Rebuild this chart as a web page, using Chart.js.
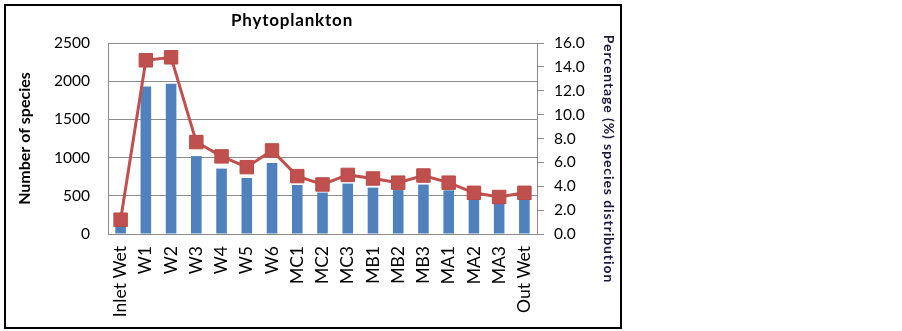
<!DOCTYPE html>
<html>
<head>
<meta charset="utf-8">
<script src="https://cdn.jsdelivr.net/npm/chart.js@4.4.1/dist/chart.umd.min.js"></script>
<style>
  html, body { margin: 0; padding: 0; background: #fff; }
  #wrap { width: 902px; height: 331px; position: relative; }
</style>
</head>
<body>
<div id="wrap"><canvas id="phytoChart"></canvas></div>
<script>
const sites = ["Inlet Wet", "W1", "W2", "W3", "W4", "W5", "W6", "MC1", "MC2", "MC3",
               "MB1", "MB2", "MB3", "MA1", "MA2", "MA3", "Out Wet"];
const speciesCount = [150, 1930, 1965, 1020, 856, 733, 929, 641, 542, 660,
                      607, 575, 647, 572, 465, 415, 455];
const percentShare = [1.2, 14.55, 14.8, 7.7, 6.5, 5.6, 7.0, 4.85, 4.15, 4.95,
                      4.65, 4.3, 4.9, 4.3, 3.45, 3.1, 3.45];

const gridGrey = '#8c8c8c';
const tickFont = { family: 'Lato', size: 15.5 };

// frame, title and right-hand axis caption
const decorations = {
    id: 'decorations',
    afterDraw(chart) {
        const ctx = chart.ctx;
        ctx.save();
        ctx.strokeStyle = '#000';
        ctx.lineWidth = 2;
        ctx.strokeRect(5, 5, 616, 323);

        ctx.fillStyle = '#000';
        ctx.font = 'bold 17px Lato';
        ctx.letterSpacing = '0.8px';
        ctx.textAlign = 'center';
        ctx.textBaseline = 'middle';
        ctx.fillText('Phytoplankton', 292, 21);

        ctx.translate(609, 159);
        ctx.rotate(Math.PI / 2);
        ctx.fillStyle = '#1a1a3a';
        ctx.font = 'bold 14px Lato';
        ctx.letterSpacing = '0.9px';
        ctx.fillText('Percentage (%) species distribution', 0, 0);
        ctx.restore();
    }
};

new Chart(document.getElementById('phytoChart'), {
    data: {
        labels: sites,
        datasets: [{
            type: 'line',
            label: 'Percentage',
            data: percentShare,
            yAxisID: 'y1',
            order: 0,
            borderColor: '#C0504D',
            backgroundColor: '#C0504D',
            borderWidth: 3,
            pointStyle: 'rect',
            pointRadius: 9.5,
            pointBorderWidth: 1,
            pointBorderColor: '#B94A47',
            pointBackgroundColor: '#C0504D',
            tension: 0
        }, {
            type: 'bar',
            label: 'Number of species',
            data: speciesCount,
            yAxisID: 'y',
            order: 1,
            backgroundColor: '#4F81BD',
            borderWidth: 0,
            categoryPercentage: 1,
            barPercentage: 0.42
        }]
    },
    options: {
        responsive: true,
        maintainAspectRatio: false,
        animation: false,
        layout: { padding: { left: 4, right: 285, top: 43, bottom: 6 } },
        plugins: {
            legend: { display: false },
            tooltip: { enabled: false }
        },
        scales: {
            x: {
                grid: { display: false, drawTicks: false },
                border: { color: gridGrey, width: 1 },
                ticks: {
                    color: '#000',
                    font: { family: 'Lato', size: 17.5 },
                    minRotation: 90,
                    maxRotation: 90,
                    padding: 12,
                    autoSkip: false
                },
                afterFit(scale) { scale.height = 91; }
            },
            y: {
                position: 'left',
                min: 0,
                max: 2500,
                ticks: {
                    stepSize: 500,
                    color: '#000',
                    font: tickFont,
                    padding: 18,
                    callback: v => String(v)
                },
                grid: { color: gridGrey, drawTicks: false },
                border: { color: gridGrey, width: 1 },
                title: {
                    display: true,
                    text: 'Number of species',
                    color: '#000',
                    font: { family: 'Lato', size: 16, weight: 'bold' },
                    padding: { top: 11, bottom: 0 }
                },
                afterFit(scale) { scale.width = 104; }
            },
            y1: {
                position: 'right',
                min: 0,
                max: 16,
                ticks: {
                    stepSize: 2,
                    color: '#000',
                    font: tickFont,
                    padding: 10,
                    callback: v => v.toFixed(1)
                },
                grid: { drawOnChartArea: false, color: gridGrey, tickLength: 7 },
                border: { color: gridGrey, width: 1 },
                afterFit(scale) { scale.width = 80; }
            }
        }
    },
    plugins: [decorations]
});
</script>
</body>
</html>
